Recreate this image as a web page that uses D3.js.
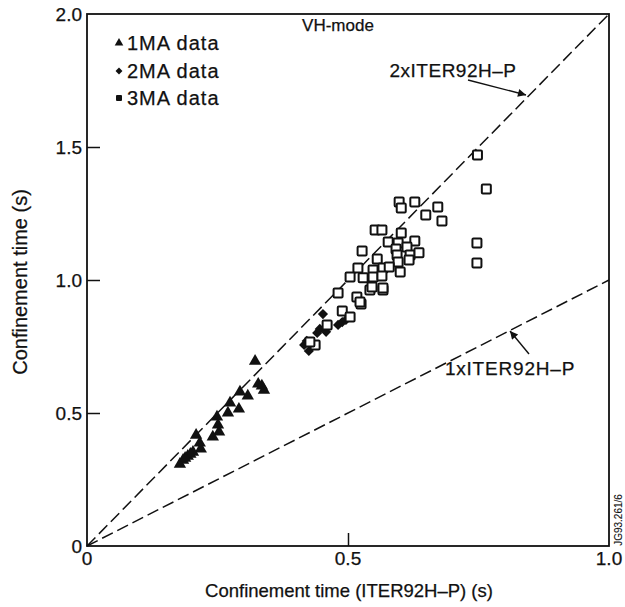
<!DOCTYPE html>
<html><head><meta charset="utf-8">
<script src="https://cdn.jsdelivr.net/npm/d3@7"></script>
<style>body{margin:0;background:#fff}text{font-family:"Liberation Sans",Arial,sans-serif;fill:#111;stroke:#111;stroke-width:0.25px}</style>
</head><body><svg id="c" width="625" height="607"></svg>
<script>
// 1MA data (triangles)
const ma1 = [[0.322,0.695],[0.328,0.609],[0.335,0.602],[0.339,0.586],[0.293,0.579],[0.308,0.564],[0.274,0.538],[0.291,0.515],[0.270,0.500],[0.249,0.485],[0.251,0.455],[0.253,0.429],[0.241,0.410],[0.209,0.417],[0.216,0.387],[0.218,0.365],[0.203,0.353],[0.193,0.338],[0.184,0.323],[0.178,0.308],[0.198,0.345],[0.188,0.330]];
// 2MA data (diamonds)
const ma2 = [[0.421,0.771],[0.416,0.756],[0.425,0.733],[0.441,0.801],[0.446,0.816],[0.458,0.805],[0.452,0.872],[0.481,0.831],[0.489,0.842],[0.496,0.850]];
// 3MA data (open squares)
const ma3 = [[0.481,0.951],[0.517,0.936],[0.525,0.910],[0.489,0.883],[0.504,0.861],[0.460,0.831],[0.437,0.756],[0.427,0.767],[0.542,0.962],[0.567,0.962],[0.598,1.293],[0.602,1.271],[0.628,1.293],[0.672,1.274],[0.649,1.244],[0.680,1.222],[0.552,1.188],[0.565,1.188],[0.602,1.177],[0.577,1.143],[0.596,1.139],[0.628,1.147],[0.527,1.109],[0.592,1.117],[0.613,1.124],[0.594,1.094],[0.619,1.094],[0.636,1.102],[0.556,1.079],[0.596,1.068],[0.617,1.075],[0.519,1.045],[0.548,1.038],[0.567,1.045],[0.579,1.049],[0.600,1.030],[0.504,1.011],[0.529,1.008],[0.548,1.011],[0.565,1.015],[0.546,0.974],[0.567,0.970],[0.523,0.917],[0.765,1.342],[0.747,1.139],[0.747,1.064],[0.748,1.470]];
const xTicks = [0, 0.5, 1.0];
const xTickLabels = ["0", "0.5", "1.0"];
const yTicks = [0, 0.5, 1.0, 1.5, 2.0];
const yTickLabels = ["0", "0.5", "1.0", "1.5", "2.0"];
const scalingLines = [{k: 2, label: "2xITER92H\u2013P"}, {k: 1, label: "1xITER92H\u2013P"}];
const legendItems = ["1MA data", "2MA data", "3MA data"];

const svg = d3.select("#c");
const x = d3.scaleLinear().domain([0, 1]).range([87, 609]);
const y = d3.scaleLinear().domain([0, 2]).range([546, 14]);

// frame
svg.append("rect").attr("x", x(0)).attr("y", y(2)).attr("width", x(1) - x(0)).attr("height", y(0) - y(2))
  .attr("fill", "none").attr("stroke", "#111").attr("stroke-width", 1.8);

// axes via d3 axis
const gx = svg.append("g").attr("transform", `translate(0,${y(0)})`)
  .call(d3.axisTop(x).tickValues([0.5]).tickSize(13).tickFormat(""));
gx.select(".domain").remove();
gx.selectAll("line").attr("stroke", "#111").attr("stroke-width", 1.5);
const gy = svg.append("g").attr("transform", `translate(${x(0)},0)`)
  .call(d3.axisRight(y).tickValues([0.5, 1.0, 1.5]).tickSize(13).tickFormat(""));
gy.select(".domain").remove();
gy.selectAll("line").attr("stroke", "#111").attr("stroke-width", 1.5);

// tick labels
svg.selectAll(".xl").data(xTicks).enter().append("text")
  .attr("x", d => x(d)).attr("y", 565).attr("text-anchor", "middle").attr("font-size", 19)
  .text((d, i) => xTickLabels[i]);
svg.selectAll(".yl").data(yTicks).enter().append("text")
  .attr("x", 82).attr("y", d => y(d) + 7).attr("text-anchor", "end").attr("font-size", 19)
  .text((d, i) => yTickLabels[i]);

// axis titles
svg.append("text").attr("x", 349).attr("y", 597).attr("text-anchor", "middle").attr("font-size", 18.5)
  .text("Confinement time (ITER92H\u2013P) (s)");
svg.append("text").attr("transform", "translate(27,282) rotate(-90)").attr("text-anchor", "middle").attr("font-size", 20)
  .text("Confinement time (s)");

// scaling lines
const lineGen = d3.line().x(d => x(d[0])).y(d => y(d[1]));
scalingLines.forEach(s => {
  svg.append("path").attr("d", lineGen([[0, 0], [1, s.k]])).attr("fill", "none")
    .attr("stroke", "#111").attr("stroke-width", 1.5).attr("stroke-dasharray", "12,5");
});

// markers
const tri = d3.symbol().type(d3.symbolTriangle).size(66);
const dia = d3.symbol().type(d3.symbolSquare).size(52);
svg.selectAll(".t").data(ma1).enter().append("path").attr("d", tri)
  .attr("transform", d => `translate(${x(d[0])},${y(d[1])})`).attr("fill", "#111");
svg.selectAll(".d").data(ma2).enter().append("path").attr("d", dia)
  .attr("transform", d => `translate(${x(d[0])},${y(d[1])}) rotate(45)`).attr("fill", "#111");
svg.selectAll(".s").data(ma3).enter().append("rect")
  .attr("x", d => x(d[0]) - 4.5).attr("y", d => y(d[1]) - 4.5).attr("width", 9).attr("height", 9).attr("rx", 1)
  .attr("fill", "#fff").attr("stroke", "#111").attr("stroke-width", 2);

// legend
const lg = svg.append("g");
const ly = [43, 71, 98];
lg.append("path").attr("d", d3.symbol().type(d3.symbolTriangle).size(32)).attr("transform", `translate(119,${ly[0]})`).attr("fill", "#111");
lg.append("path").attr("d", d3.symbol().type(d3.symbolSquare).size(24)).attr("transform", `translate(119,${ly[1]}) rotate(45)`).attr("fill", "#111");
lg.append("rect").attr("x", 116).attr("y", ly[2] - 3).attr("width", 6).attr("height", 6).attr("rx", 1).attr("fill", "#111");
legendItems.forEach((t, i) => {
  lg.append("text").attr("x", 127).attr("y", ly[i] + 7).attr("font-size", 20).attr("letter-spacing", 1).text(t);
});

// annotations
svg.append("text").attr("x", 338).attr("y", 31).attr("text-anchor", "middle").attr("font-size", 17).text("VH-mode");
svg.append("text").attr("x", 453).attr("y", 77).attr("text-anchor", "middle").attr("font-size", 19).attr("letter-spacing", 0.5).text(scalingLines[0].label);
svg.append("text").attr("x", 510).attr("y", 375).attr("text-anchor", "middle").attr("font-size", 19).attr("letter-spacing", 0.8).text(scalingLines[1].label);

const defs = svg.append("defs");
defs.append("marker").attr("id", "ah").attr("viewBox", "0 0 10 10").attr("refX", 10).attr("refY", 5)
  .attr("markerWidth", 11).attr("markerHeight", 8).attr("markerUnits", "userSpaceOnUse").attr("orient", "auto")
  .append("path").attr("d", "M0,0 L10,5 L0,10 Z").attr("fill", "#111");
svg.append("line").attr("x1", 468).attr("y1", 80).attr("x2", 526).attr("y2", 95)
  .attr("stroke", "#111").attr("stroke-width", 1.4).attr("marker-end", "url(#ah)");
svg.append("line").attr("x1", 529).attr("y1", 354).attr("x2", 510).attr("y2", 331)
  .attr("stroke", "#111").attr("stroke-width", 1.4).attr("marker-end", "url(#ah)");

// figure id
svg.append("text").attr("transform", "translate(622,520) rotate(-90)").attr("text-anchor", "middle").attr("font-size", 10)
  .style("stroke-width", "0.1px").text("JG93.261/6");
</script></body></html>
